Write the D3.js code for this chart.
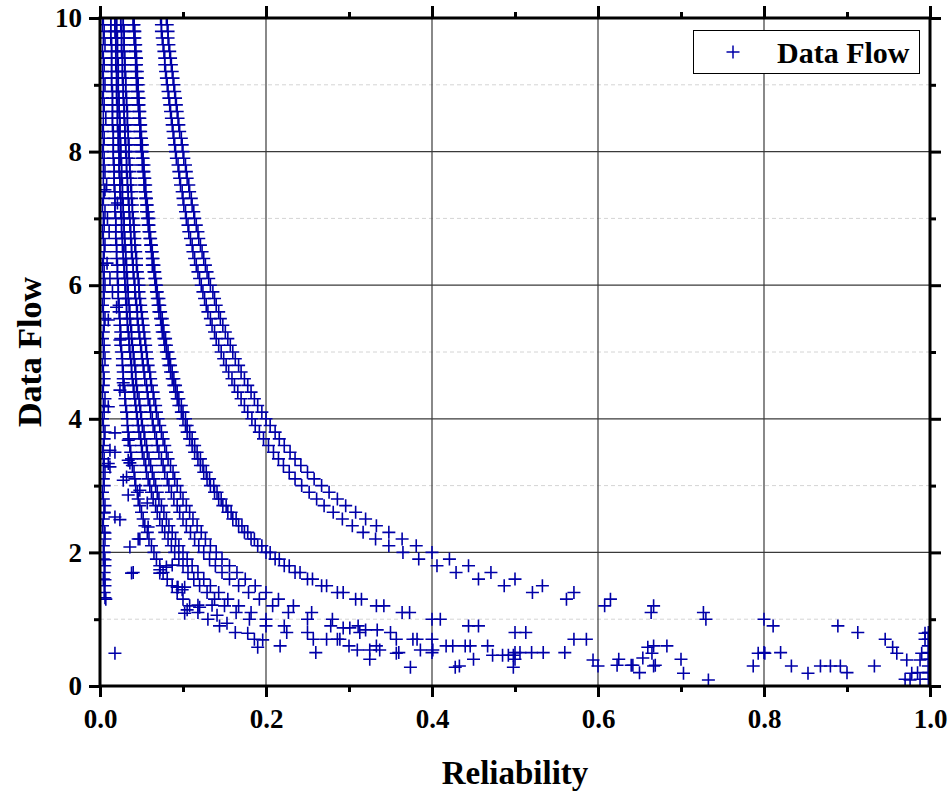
<!DOCTYPE html>
<html><head><meta charset="utf-8">
<script src="https://cdn.jsdelivr.net/npm/d3@7/dist/d3.min.js"></script>
<style>body{margin:0;background:#fff}svg{display:block}</style>
</head><body><svg id="chart" width="952" height="797"></svg>
<script>
// ---------- DATA ----------
const seriesName = "Data Flow";
const xTitle = "Reliability";
const yTitle = "Data Flow";
const xTicks = [0, 0.2, 0.4, 0.6, 0.8, 1.0];
const xMinorTicks = [0.1, 0.3, 0.5, 0.7, 0.9];
const yTicks = [0, 2, 4, 6, 8, 10];
const yMinorTicks = [1, 3, 5, 7, 9];

// data-flow levels (y) shared by the curves, top to bottom
const flowLevels = [10,9.9,9.8,9.7,9.6,9.5,9.4,9.3,9.2,9.1,
9,8.9,8.8,8.7,8.6,8.5,8.4,8.3,8.2,8.1,
8,7.9,7.8,7.7,7.6,7.5,7.4,7.3,7.2,7.1,
7,6.9,6.8,6.7,6.6,6.5,6.4,6.3,6.2,6.1,
6,5.9,5.8,5.7,5.6,5.5,5.4,5.3,5.2,5.1,
5,4.9,4.8,4.7,4.6,4.5,4.4,4.3,4.2,4.1,
4,3.9,3.8,3.7,3.6,3.5,3.4,3.3,3.2,3.1,
3,2.9,2.8,2.7,2.6,2.5,2.4,2.3,2.2,2.1,
2,1.9,1.8,1.7,1.6,1.5,1.4,1.3,1.2,1.1,
1,0.9,0.8,0.7,0.6,0.5,0.4,0.3,0.2,0.1];

// reliability (x) of each curve at the levels above
const reliabilityA = [.080,.081,.082,.082,.083,.084,.085,.086,.087,.088,
.089,.090,.091,.092,.093,.094,.095,.096,.098,.099,
.100,.101,.103,.104,.105,.107,.108,.110,.111,.113,
.114,.116,.118,.119,.121,.123,.125,.127,.129,.131,
.133,.136,.138,.140,.143,.145,.148,.151,.154,.157,
.160,.163,.167,.170,.174,.178,.182,.186,.190,.195,
.200,.205,.211,.216,.222,.229,.235,.242,.250,.258,
.267,.276,.286,.296,.308,.320,.333,.348,.364,.381,
.400,.421,.444,.471,.500,.533,.571,.615,.667,.727,
.800,.889,1.0];
const reliabilityB = [.073,.074,.074,.075,.076,.077,.078,.078,.079,.080,
.081,.082,.083,.084,.085,.086,.087,.088,.089,.090,
.091,.092,.094,.095,.096,.097,.099,.100,.101,.103,
.104,.106,.107,.109,.111,.112,.114,.116,.118,.120,
.122,.124,.126,.128,.130,.133,.135,.138,.140,.143,
.146,.149,.152,.155,.159,.162,.166,.170,.174,.178,
.183,.187,.192,.197,.203,.209,.215,.221,.228,.235,
.243,.252,.261,.270,.281,.292,.304,.317,.332,.348,
.365,.384,.406,.429,.456,.487,.521,.562,.608,.664,
.730,.811,.913];
const reliabilityC = [.041,.041,.042,.042,.043,.043,.044,.044,.045,.045,
.046,.046,.047,.047,.048,.048,.049,.049,.050,.051,
.051,.052,.053,.053,.054,.055,.055,.056,.057,.058,
.059,.059,.060,.061,.062,.063,.064,.065,.066,.067,
.068,.069,.071,.072,.073,.075,.076,.077,.079,.080,
.082,.084,.085,.087,.089,.091,.093,.095,.098,.100,
.103,.105,.108,.111,.114,.117,.121,.124,.128,.132,
.137,.141,.146,.152,.158,.164,.171,.178,.186,.195,
.205,.216,.228,.241,.256,.273,.293,.315,.342,.373,
.410,.456,.513,.586,.683,.820];
const reliabilityD = [.040,.040,.041,.041,.042,.042,.043,.043,.043,.044,
.044,.045,.045,.046,.047,.047,.048,.048,.049,.049,
.050,.051,.051,.052,.053,.053,.054,.055,.056,.056,
.057,.058,.059,.060,.061,.062,.063,.063,.065,.066,
.067,.068,.069,.070,.071,.073,.074,.075,.077,.078,
.080,.082,.083,.085,.087,.089,.091,.093,.095,.098,
.100,.103,.105,.108,.111,.114,.118,.121,.125,.129,
.133,.138,.143,.148,.154,.160,.167,.174,.182,.190,
.200,.211,.222,.235,.250,.267,.286,.308,.333,.364,
.400,.444,.500,.571,.667,.800,1.0];
const reliabilityE = [.028,.028,.029,.029,.029,.029,.030,.030,.030,.031,
.031,.031,.032,.032,.033,.033,.033,.034,.034,.035,
.035,.035,.036,.036,.037,.037,.038,.038,.039,.039,
.040,.041,.041,.042,.042,.043,.044,.044,.045,.046,
.047,.047,.048,.049,.050,.051,.052,.053,.054,.055,
.056,.057,.058,.060,.061,.062,.064,.065,.067,.068,
.070,.072,.074,.076,.078,.080,.082,.085,.088,.090,
.093,.097,.100,.104,.108,.112,.117,.122,.127,.133,
.140,.147,.156,.165,.175,.187,.200,.215,.233,.255,
.280,.311,.350,.400,.467,.560,.700,.933];
const reliabilityF = [.025,.025,.026,.026,.026,.026,.027,.027,.027,.027,
.028,.028,.028,.029,.029,.029,.030,.030,.030,.031,
.031,.032,.032,.032,.033,.033,.034,.034,.035,.035,
.036,.036,.037,.037,.038,.038,.039,.040,.040,.041,
.042,.042,.043,.044,.045,.045,.046,.047,.048,.049,
.050,.051,.052,.053,.054,.056,.057,.058,.060,.061,
.063,.064,.066,.068,.069,.071,.074,.076,.078,.081,
.083,.086,.089,.093,.096,.100,.104,.109,.114,.119,
.125,.132,.139,.147,.156,.167,.179,.192,.208,.227,
.250,.278,.313,.357,.417,.500,.625,.833];
const reliabilityG = [.020,.020,.020,.021,.021,.021,.021,.022,.022,.022,
.022,.022,.023,.023,.023,.024,.024,.024,.024,.025,
.025,.025,.026,.026,.026,.027,.027,.027,.028,.028,
.029,.029,.029,.030,.030,.031,.031,.032,.032,.033,
.033,.034,.034,.035,.036,.036,.037,.038,.038,.039,
.040,.041,.042,.043,.043,.044,.045,.047,.048,.049,
.050,.051,.053,.054,.056,.057,.059,.061,.063,.065,
.067,.069,.071,.074,.077,.080,.083,.087,.091,.095,
.100,.105,.111,.118,.125,.133,.143,.154,.167,.182,
.200,.222,.250,.286,.333,.400,.500,.667,1.0];
const reliabilityH = [.018,.018,.018,.019,.019,.019,.019,.019,.020,.020,
.020,.020,.020,.021,.021,.021,.021,.022,.022,.022,
.023,.023,.023,.023,.024,.024,.024,.025,.025,.025,
.026,.026,.026,.027,.027,.028,.028,.029,.029,.030,
.030,.031,.031,.032,.032,.033,.033,.034,.035,.035,
.036,.037,.038,.038,.039,.040,.041,.042,.043,.044,
.045,.046,.047,.049,.050,.051,.053,.055,.056,.058,
.060,.062,.064,.067,.069,.072,.075,.078,.082,.086,
.090,.095,.100,.106,.113,.120,.129,.138,.150,.164,
.180,.200,.225,.257,.300,.360,.450,.600,.900];
const reliabilityI = [.013,.013,.013,.013,.014,.014,.014,.014,.014,.014,
.014,.015,.015,.015,.015,.015,.015,.016,.016,.016,
.016,.016,.017,.017,.017,.017,.018,.018,.018,.018,
.019,.019,.019,.019,.020,.020,.020,.021,.021,.021,
.022,.022,.022,.023,.023,.024,.024,.025,.025,.025,
.026,.027,.027,.028,.028,.029,.030,.030,.031,.032,
.033,.033,.034,.035,.036,.037,.038,.039,.041,.042,
.043,.045,.046,.048,.050,.052,.054,.057,.059,.062,
.065,.068,.072,.076,.081,.087,.093,.100,.108,.118,
.130,.144,.163,.186,.217,.260,.325,.433,.650];
// points hugging the left axis
const reliabilityEdge = [.004,.003,.005,.004,.006,.003,.004,.005,.003,.004,
.006,.004,.003,.005,.004,.007,.004,.003,.005,.004,
.003,.005,.004,.006,.004,.008,.005,.004,.003,.006,
.004,.005,.003,.004,.006,.005,.004,.003,.005,.004,
.006,.004,.005,.003,.004,.006,.005,.004,.003,.005,
.004,.006,.003,.004,.005,.004,.003,.006,.004,.005,
.003,.004,.006,.005,.004,.003,.005,.004,.006,.004,
.005,.003,.004,.006,.005,.004,.003,.005,.006,.004,
.005,.004,.006,.005,.004,.006,.005,.007];
// scattered points [reliability, data flow]
const scatterPoints = [
[.0085,6.33],[.02,5.67],[.01,5.48],[.024,5.18],[.01,4.18],[.006,7.43],[.021,7.23],
[.009,7.0],[.011,6.8],[.012,6.1],[.015,5.9],
[.028,4.54],[.024,4.43],[.018,3.79],[.034,3.68],[.012,3.53],[.018,3.5],[.012,3.28],
[.028,3.08],[.036,3.34],[.048,2.93],[.057,2.74],[.01,3.33],[.034,3.38],[.032,3.13],
[.034,2.86],[.058,2.38],[.046,2.2],[.018,2.53],[.024,2.49],[.036,2.08],[.048,2.2],
[.04,1.7],[.072,1.74],[.08,1.78],[.093,1.48],[.099,1.44],[.105,1.14],[.12,1.18],
[.018,0.49],[.005,2.59],[.006,2.29],[.006,1.89],[.006,1.59],[.006,1.32],
[.141,1.06],[.153,0.94],[.178,0.79],[.19,0.58],[.196,0.69],
[.038,1.69],[.072,1.69],[.087,1.81],[.094,1.48],[.102,1.48],[.102,1.09],[.118,1.21],[.135,1.21],
[.293,0.87],[.301,0.87],[.32,0.84],[.334,0.84],[.273,0.7],[.289,0.7],[.31,0.54],[.325,0.54],
[.337,0.54],[.357,0.49],[.374,0.28],[.377,0.7],[.382,0.7],[.386,0.54],[.401,0.54],[.428,0.28],
[.425,0.6],[.44,0.6],[.446,0.6],[.473,0.46],[.485,0.46],[.492,0.46],[.498,0.46],[.498,0.28],
[.506,0.5],[.52,0.5],[.534,0.5],[.594,0.39],[.623,0.31],[.64,0.31],
[.642,0.31],[.654,0.42],[.66,0.58],[.665,0.49],[.669,0.31],[.703,0.19],[.733,0.09],[.787,0.3],
[.793,0.49],[.801,0.49],[.853,0.19],[.868,0.3],[.88,0.3],[.892,0.3],[.946,0.7],[.955,0.58],
[.96,0.49],[.972,0.39],[.978,0.19],[.976,0.09],[.988,0.39],[.988,0.1],[.994,0.79],[.994,0.7],
[.99,0.49],[.998,0.8],[.998,0.7],[.998,0.6],[.998,0.5],[.998,0.4],[.998,0.3],[.998,0.2],
[.998,0.1],[.985,0.2],[.97,0.1]];

// ---------- DRAWING ----------
const curves = [reliabilityA, reliabilityB, reliabilityC, reliabilityD, reliabilityE,
  reliabilityF, reliabilityG, reliabilityH, reliabilityI, reliabilityEdge];
const points = [];
curves.forEach(arr => arr.forEach((v, i) => points.push([v, flowLevels[i]])));
scatterPoints.forEach(p => points.push(p));

const plot = {left: 100, right: 930, top: 18, bottom: 686};
const x = d3.scaleLinear().domain([0, 1]).range([plot.left, plot.right]);
const y = d3.scaleLinear().domain([0, 10]).range([plot.bottom, plot.top]);
const FONT = "'Liberation Serif','Times New Roman',Times,serif";
const markColor = "#0000a8";
const plus = "M-6.5,0H6.5M0,-6.5V6.5";

const svg = d3.select("#chart");
svg.append("rect").attr("width", 952).attr("height", 797).attr("fill", "#fff");

// minor dashed horizontal grid
svg.append("g").selectAll("line").data(yMinorTicks).join("line")
  .attr("x1", plot.left).attr("x2", plot.right)
  .attr("y1", d => y(d)).attr("y2", d => y(d))
  .attr("stroke", "#d4d4d4").attr("stroke-width", 1).attr("stroke-dasharray", "4,3");
// major grid
svg.append("g").selectAll("line").data(yTicks.filter(d => d > 0 && d < 10)).join("line")
  .attr("x1", plot.left).attr("x2", plot.right)
  .attr("y1", d => y(d)).attr("y2", d => y(d))
  .attr("stroke", "#3a3a3a").attr("stroke-width", 1.2);
svg.append("g").selectAll("line").data(xTicks.filter(d => d > 0 && d < 1)).join("line")
  .attr("y1", plot.top).attr("y2", plot.bottom)
  .attr("x1", d => x(d)).attr("x2", d => x(d))
  .attr("stroke", "#3a3a3a").attr("stroke-width", 1.2);

// points
svg.append("clipPath").attr("id", "clip").append("rect")
  .attr("x", plot.left).attr("y", plot.top)
  .attr("width", plot.right - plot.left).attr("height", plot.bottom - plot.top);
svg.append("g").attr("clip-path", "url(#clip)")
  .selectAll("path").data(points).join("path")
  .attr("d", plus)
  .attr("transform", d => `translate(${x(d[0])},${y(d[1])})`)
  .attr("fill", "none").attr("stroke", markColor).attr("stroke-width", 1.6);

// axes
function styleAxis(g) {
  g.select(".domain").remove();
  g.selectAll(".tick line").attr("stroke", "#000").attr("stroke-width", 3);
  g.selectAll("text").attr("font-family", FONT).attr("font-weight", "bold")
    .attr("font-size", 27).attr("fill", "#000");
}
const fmtX = d3.format(".1f");
svg.append("g").attr("transform", `translate(0,${plot.bottom})`)
  .call(d3.axisBottom(x).tickValues(xTicks).tickFormat(fmtX).tickSize(11).tickPadding(12).tickSizeOuter(0))
  .call(styleAxis);
svg.append("g").attr("transform", `translate(0,${plot.bottom})`)
  .call(d3.axisBottom(x).tickValues(xMinorTicks).tickFormat("").tickSize(6)).call(styleAxis);
svg.append("g").attr("transform", `translate(0,${plot.top})`)
  .call(d3.axisTop(x).tickValues(xTicks).tickFormat("").tickSize(12)).call(styleAxis);
svg.append("g").attr("transform", `translate(0,${plot.top})`)
  .call(d3.axisTop(x).tickValues(xMinorTicks).tickFormat("").tickSize(6)).call(styleAxis);
svg.append("g").attr("transform", `translate(${plot.left},0)`)
  .call(d3.axisLeft(y).tickValues(yTicks).tickFormat(d3.format("d")).tickSize(11).tickPadding(7))
  .call(styleAxis);
svg.append("g").attr("transform", `translate(${plot.left},0)`)
  .call(d3.axisLeft(y).tickValues(yMinorTicks).tickFormat("").tickSize(6)).call(styleAxis);
svg.append("g").attr("transform", `translate(${plot.right},0)`)
  .call(d3.axisRight(y).tickValues(yTicks).tickFormat("").tickSize(11)).call(styleAxis);
svg.append("g").attr("transform", `translate(${plot.right},0)`)
  .call(d3.axisRight(y).tickValues(yMinorTicks).tickFormat("").tickSize(6)).call(styleAxis);

// frame
svg.append("rect").attr("x", plot.left).attr("y", plot.top)
  .attr("width", plot.right - plot.left).attr("height", plot.bottom - plot.top)
  .attr("fill", "none").attr("stroke", "#000").attr("stroke-width", 3);

// titles
svg.append("text").attr("x", (plot.left + plot.right) / 2).attr("y", 784)
  .attr("text-anchor", "middle").attr("font-family", FONT).attr("font-weight", "bold")
  .attr("font-size", 33).text(xTitle);
svg.append("text").attr("transform", "translate(41,352) rotate(-90)")
  .attr("text-anchor", "middle").attr("font-family", FONT).attr("font-weight", "bold")
  .attr("font-size", 34).text(yTitle);

// legend
const lg = svg.append("g");
lg.append("rect").attr("x", 693.5).attr("y", 30.5).attr("width", 226).attr("height", 43)
  .attr("fill", "#fff").attr("stroke", "#000").attr("stroke-width", 1);
lg.append("path").attr("d", plus).attr("transform", "translate(733,52)")
  .attr("fill", "none").attr("stroke", markColor).attr("stroke-width", 1.5);
lg.append("text").attr("x", 777).attr("y", 63).attr("font-family", FONT)
  .attr("font-weight", "bold").attr("font-size", 30).text(seriesName);
</script>
</body></html>
